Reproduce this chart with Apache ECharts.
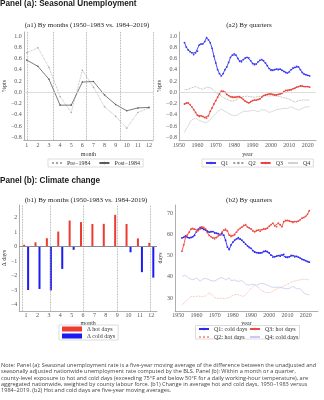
<!DOCTYPE html>
<html>
<head>
<meta charset="utf-8">
<script src="https://cdn.jsdelivr.net/npm/echarts@6/dist/echarts.min.js"></script>
<style>
  html, body { margin: 0; padding: 0; background: #fff; }
  #chart { width: 324px; height: 400px; }
</style>
</head>
<body>
<div id="chart"></div>
<script>
// ---- Panel (a1): seasonal unemployment by month, %pts ----
const months = [1, 2, 3, 4, 5, 6, 7, 8, 9, 10, 11, 12];
const unempPre1984  = [0.70, 0.79, 0.44, -0.08, -0.36, 0.39, 0.09, -0.26, -0.43, -0.64, -0.36, -0.28];
const unempPost1984 = [0.57, 0.46, 0.23, -0.23, -0.23, 0.18, 0.19, -0.05, -0.22, -0.33, -0.28, -0.27];
const unempTicks = [-0.8, -0.6, -0.4, -0.2, 0.0, 0.2, 0.4, 0.6, 0.8, 1.0];

// ---- Panel (a2): seasonal unemployment by quarter, 1953-2021 ----
const unempFirstYear = 1953;
const unempQ1 = [0.88,0.80,0.75,0.72,0.70,0.67,0.70,0.73,0.84,0.86,
                 0.86,0.90,0.97,0.93,0.88,0.78,0.64,0.52,0.40,0.33,
                 0.29,0.33,0.40,0.45,0.53,0.62,0.66,0.68,0.66,0.60,
                 0.55,0.54,0.58,0.61,0.62,0.61,0.56,0.51,0.49,0.50,
                 0.54,0.57,0.58,0.56,0.52,0.47,0.42,0.39,0.39,0.40,
                 0.41,0.40,0.41,0.39,0.37,0.35,0.34,0.36,0.40,0.43,
                 0.44,0.46,0.45,0.40,0.35,0.32,0.31,0.30,0.29];
const unempQ2 = [0.04,0.04,0.05,0.06,0.08,0.09,0.10,0.09,0.07,0.04,
                 0.05,0.07,0.09,0.10,0.08,0.06,0.03,0.00,-0.03,-0.05,
                 -0.07,-0.09,-0.11,-0.13,-0.14,-0.15,-0.16,-0.15,-0.14,-0.12,
                 -0.10,-0.09,-0.08,-0.08,-0.07,-0.08,-0.08,-0.09,-0.09,-0.08,
                 -0.08,-0.07,-0.07,-0.06,-0.06,-0.06,-0.07,-0.06,-0.06,-0.06,
                 -0.07,-0.07,-0.08,-0.09,-0.10,-0.11,-0.11,-0.12,-0.14,-0.16,
                 -0.18,-0.17,-0.15,-0.14,-0.14,-0.14,-0.14,-0.14,-0.14];
const unempQ3 = [-0.21,-0.19,-0.19,-0.22,-0.26,-0.31,-0.36,-0.41,-0.43,-0.42,
                 -0.43,-0.45,-0.46,-0.42,-0.34,-0.28,-0.21,-0.15,-0.09,-0.03,
                 0.02,0.02,0.00,-0.04,-0.06,-0.08,-0.09,-0.09,-0.09,-0.08,
                 -0.08,-0.10,-0.13,-0.16,-0.18,-0.19,-0.17,-0.15,-0.14,-0.14,
                 -0.13,-0.12,-0.09,-0.06,-0.05,-0.04,-0.03,-0.03,-0.04,-0.05,
                 -0.05,-0.04,-0.03,-0.02,0.01,0.03,0.03,0.04,0.04,0.06,
                 0.07,0.09,0.10,0.11,0.11,0.10,0.10,0.10,0.09];
const unempQ4 = [-0.72,-0.65,-0.60,-0.53,-0.49,-0.47,-0.46,-0.48,-0.50,-0.52,
                 -0.53,-0.55,-0.54,-0.52,-0.49,-0.45,-0.42,-0.38,-0.34,-0.31,
                 -0.30,-0.31,-0.34,-0.36,-0.38,-0.40,-0.41,-0.42,-0.42,-0.40,
                 -0.38,-0.36,-0.34,-0.33,-0.34,-0.34,-0.33,-0.32,-0.32,-0.34,
                 -0.35,-0.33,-0.31,-0.30,-0.32,-0.35,-0.36,-0.35,-0.34,-0.33,
                 -0.31,-0.30,-0.30,-0.29,-0.29,-0.29,-0.29,-0.28,-0.26,-0.26,
                 -0.29,-0.32,-0.32,-0.30,-0.29,-0.27,-0.26,-0.26,-0.26];
const yearTicks = [1950, 1960, 1970, 1980, 1990, 2000, 2010, 2020];

// ---- Panel (b1): change in hot / cold days by month ----
const hotDaysChange  = [0.12, 0.29, 0.57, 1.03, 1.79, 1.68, 1.55, 1.56, 2.18, 1.55, 0.56, 0.25];
const coldDaysChange = [-3.00, -2.93, -3.03, -1.55, -0.23, 0, 0, 0, 0, -0.40, -1.77, -2.15];
const deltaTicks = [-4, -3, -2, -1, 0, 1, 2];

// ---- Panel (b2): hot / cold days by quarter, 1952-2022 ----
const daysFirstYear = 1952;
const q1ColdDays = [58.3,58.6,59.2,58.6,58.3,58.5,58.8,59.5,61.2,62.4,
                    63.2,62.8,62.3,62.0,61.5,61.0,61.2,61.3,60.6,60.5,
                    60.3,59.9,60.5,59.6,57.2,54.0,52.8,55.0,56.3,57.2,
                    57.9,58.4,57.8,57.2,56.3,55.4,54.6,53.8,53.4,52.3,
                    51.6,51.4,51.2,51.2,51.3,51.9,52.2,51.8,51.2,50.2,
                    49.3,49.4,49.7,50.0,49.7,50.3,50.6,49.3,49.1,49.4,
                    50.1,50.0,49.4,49.6,49.3,48.8,48.2,48.0,47.6,47.2,
                    46.9];
const q2HotDays  = [26.8,27.4,28.2,29.2,30.0,30.8,31.1,30.6,30.3,31.0,
                    31.5,30.6,30.3,31.0,31.8,32.4,32.5,31.2,30.2,29.7,
                    29.8,30.0,29.9,29.7,29.8,30.0,30.2,30.8,31.3,31.5,
                    31.8,32.2,31.2,30.4,30.8,31.5,32.5,33.6,34.6,35.4,
                    36.0,35.6,35.0,34.0,33.5,33.0,32.6,32.4,32.5,32.8,
                    33.3,33.8,34.2,34.6,35.0,35.3,35.6,36.0,36.5,37.0,
                    37.4,37.8,38.0,38.2,38.4,38.6,38.8,38.9,38.9,38.7,
                    38.5];
const q3HotDays  = [52.0,55.0,58.5,59.8,61.0,62.5,62.8,62.4,61.5,61.8,
                    62.5,63.5,63.2,62.5,60.8,59.5,58.8,58.3,57.9,58.5,
                    59.3,59.8,61.0,62.0,62.4,61.6,59.6,59.0,59.4,59.8,
                    61.0,62.2,62.8,63.4,64.2,64.5,63.5,63.0,62.5,61.6,
                    61.2,61.8,62.0,61.5,62.2,62.7,62.5,62.9,63.8,64.6,
                    65.3,64.0,63.6,65.2,64.5,63.6,66.0,66.6,66.5,66.3,
                    66.0,65.6,66.0,65.9,66.2,66.8,67.6,67.9,68.4,69.4,
                    71.1];
const q4ColdDays = [40.3,40.5,40.7,39.8,39.2,38.9,38.6,39.0,39.4,38.6,
                    37.9,38.6,39.2,39.4,39.0,38.9,38.2,37.6,38.0,38.6,
                    39.0,39.4,39.7,39.2,38.6,39.0,39.4,38.2,37.6,38.5,
                    38.2,37.8,38.0,38.2,37.3,36.6,36.3,36.0,36.3,36.6,
                    36.3,36.0,36.4,36.9,37.1,36.7,36.3,36.1,35.6,35.2,
                    34.7,35.0,35.5,35.2,35.0,34.8,34.6,34.4,34.4,34.5,
                    35.0,35.5,35.0,34.4,34.4,34.4,33.4,32.4,31.8,31.6,
                    31.6];
const daysTicks = [30, 40, 50, 60, 70];

const noteLines = [
  'Note: Panel (a): Seasonal unemployment rate is a five-year moving average of the difference between the unadjusted and',
  'seasonally adjusted nationwide unemployment rate computed by the BLS. Panel (b): Within a month or a quarter,',
  'county-level exposure to hot and cold days (exceeding 75°F and below 50°F for a daily working-hour temperature), are',
  'aggregated nationwide, weighted by county labour force. (b1) Change in average hot and cold days, 1950–1983 versus',
  '1984–2019. (b2) Hot and cold days are five-year moving averages.'
];

// ---- helpers ----
const SERIF = '"Liberation Serif", "Times New Roman", serif';
const minus = v => (v < 0 ? '\u2212' : '') + Math.abs(v);
const oneDecimal = v => (v < 0 ? '\u2212' : '') + Math.abs(v).toFixed(1);
const plain = v => String(v);
const withYears = (first, vals) => vals.map((v, i) => [first + i, v]);
const withMonths = vals => vals.map((v, i) => [months[i], v]);

function axis(gridIndex, o) {
  return Object.assign({
    type: 'value',
    gridIndex,
    axisLine: { show: true, onZero: false, lineStyle: { color: '#9a9a9a', width: 0.8 } },
    axisTick: { show: false },
    splitLine: { show: false },
    nameLocation: 'middle',
    nameTextStyle: { fontFamily: SERIF, fontSize: 6, color: '#333' }
  }, o, {
    axisLabel: Object.assign({ fontFamily: SERIF, fontSize: 6, color: '#555', margin: 2, formatter: plain }, o.axisLabel || {})
  });
}

const vDotted = (vals, color) => vals.map(v => ({ xAxis: v, lineStyle: { type: 'dotted', color, width: 0.8 } }));
const ML = (data) => ({ silent: true, symbol: ['none', 'none'], label: { show: false }, animation: false, data });

const legendText = { fontFamily: SERIF, fontSize: 6, color: '#333' };
const boxed = { borderColor: '#cfcfcf', borderWidth: 0.7 };

const chart = echarts.init(document.getElementById('chart'), null, { renderer: 'canvas' });

chart.setOption({
  animation: false,
  backgroundColor: '#fff',
  grid: [
    { left: 22,  top: 32,  width: 131, height: 108 },
    { left: 179, top: 32,  width: 137, height: 108 },
    { left: 14,  top: 205, width: 143, height: 106 },
    { left: 175, top: 205, width: 143, height: 106 }
  ],
  xAxis: [
    axis(0, { min: 0.73, max: 12.36, name: 'month', nameGap: 11,
              axisLabel: { customValues: months } }),
    axis(1, { min: 1950, max: 2024.5, name: 'year', nameGap: 11,
              axisLabel: { customValues: yearTicks } }),
    axis(2, { min: 0.4, max: 12.5, name: 'month', nameGap: 9,
              axisLabel: { customValues: months, margin: 1 } }),
    axis(3, { min: 1948.2, max: 2026.8, name: 'year', nameGap: 9,
              axisLabel: { customValues: yearTicks, margin: 1 } })
  ],
  yAxis: [
    axis(0, { min: -0.85, max: 1.07, name: '%pts', nameGap: 15,
              axisLabel: { customValues: unempTicks, formatter: oneDecimal } }),
    axis(1, { min: -0.85, max: 1.07, name: '%pts', nameGap: 15,
              axisLabel: { customValues: unempTicks, formatter: oneDecimal } }),
    axis(2, { min: -4.45, max: 2.86, name: 'Δ days', nameGap: 10,
              axisLabel: { customValues: deltaTicks, formatter: minus } }),
    axis(3, { min: 23.9, max: 73.8, name: 'days', nameGap: 10,
              axisLabel: { customValues: daysTicks } })
  ],
  legend: [
    Object.assign({ data: ['Pre\u22121984', 'Post\u22121984'], left: 48, top: 159, itemWidth: 10, itemHeight: 3,
      itemGap: 8, padding: [1, 3], textStyle: legendText }, boxed),
    Object.assign({ data: ['Q1', 'Q2', 'Q3', 'Q4'], left: 202, top: 159, itemWidth: 10, itemHeight: 3,
      itemGap: 4, padding: [1, 3], textStyle: legendText }, boxed),
    Object.assign({ data: ['Δ hot days', 'Δ cold days'], orient: 'vertical', left: 59, top: 325, icon: 'rect',
      itemWidth: 20, itemHeight: 5, itemGap: 1, padding: [1, 3], textStyle: legendText }, boxed),
    { data: ['Q1: cold days', 'Q2: hot days'], orient: 'vertical', left: 198, top: 326,
      itemWidth: 10, itemHeight: 3, itemGap: 2, padding: 0, textStyle: legendText },
    { data: ['Q3: hot days', 'Q4: cold days'], orient: 'vertical', left: 249, top: 326,
      itemWidth: 10, itemHeight: 3, itemGap: 2, padding: 0, textStyle: legendText }
  ],
  series: [
    // (a1)
    { name: 'Pre\u22121984', type: 'line', xAxisIndex: 0, yAxisIndex: 0, data: withMonths(unempPre1984),
      symbol: 'circle', symbolSize: 1.6, itemStyle: { color: '#a8a8a8' },
      lineStyle: { color: '#a8a8a8', width: 0.8, type: 'dotted' },
      markLine: ML(vDotted([1, 3.35, 6.38, 9.38, 12.36], '#999').concat([
        { yAxis: 0, lineStyle: { type: 'solid', color: '#d4d4d4', width: 0.8 } }])) },
    { name: 'Post\u22121984', type: 'line', xAxisIndex: 0, yAxisIndex: 0, data: withMonths(unempPost1984),
      symbol: 'circle', symbolSize: 1.6, itemStyle: { color: '#5a5a5a' },
      lineStyle: { color: '#5a5a5a', width: 0.8 } },
    // (a2)
    { name: 'Q1', type: 'line', xAxisIndex: 1, yAxisIndex: 1, data: withYears(unempFirstYear, unempQ1),
      symbol: 'circle', symbolSize: 1.8, itemStyle: { color: '#3a3af2' }, lineStyle: { color: '#3a3af2', width: 0.9 },
      markLine: ML([{ yAxis: 0, lineStyle: { type: 'solid', color: '#d4d4d4', width: 0.8 } }]) },
    { name: 'Q2', type: 'line', xAxisIndex: 1, yAxisIndex: 1, data: withYears(unempFirstYear, unempQ2),
      symbol: 'none', itemStyle: { color: '#9c9c9c' }, lineStyle: { color: '#9c9c9c', width: 0.8, type: 'dotted' } },
    { name: 'Q3', type: 'line', xAxisIndex: 1, yAxisIndex: 1, data: withYears(unempFirstYear, unempQ3),
      symbol: 'circle', symbolSize: 1.8, itemStyle: { color: '#e8473d' }, lineStyle: { color: '#e8473d', width: 0.9 } },
    { name: 'Q4', type: 'line', xAxisIndex: 1, yAxisIndex: 1, data: withYears(unempFirstYear, unempQ4),
      symbol: 'none', itemStyle: { color: '#d2d2d2' }, lineStyle: { color: '#d2d2d2', width: 0.8 } },
    // (b1)
    { name: 'Δ hot days', type: 'bar', xAxisIndex: 2, yAxisIndex: 2, data: withMonths(hotDaysChange),
      barWidth: 2, barGap: '100%', itemStyle: { color: '#ec3b30' },
      markLine: ML(vDotted([0.87, 3.3, 6.22, 9.15, 12.08], '#9a9a9a').concat([
        { yAxis: 0, lineStyle: { type: 'solid', color: '#8a8a8a', width: 1.2 } }])) },
    { name: 'Δ cold days', type: 'bar', xAxisIndex: 2, yAxisIndex: 2, data: withMonths(coldDaysChange),
      barWidth: 2, barGap: '100%', itemStyle: { color: '#1c1cf2' } },
    // (b2)
    { name: 'Q1: cold days', type: 'line', xAxisIndex: 3, yAxisIndex: 3, data: withYears(daysFirstYear, q1ColdDays),
      symbol: 'circle', symbolSize: 1.8, itemStyle: { color: '#2a2af0' }, lineStyle: { color: '#2a2af0', width: 0.9 } },
    { name: 'Q2: hot days', type: 'line', xAxisIndex: 3, yAxisIndex: 3, data: withYears(daysFirstYear, q2HotDays),
      symbol: 'none', itemStyle: { color: '#f3a49e' }, lineStyle: { color: '#f3a49e', width: 0.8, type: 'dotted' } },
    { name: 'Q3: hot days', type: 'line', xAxisIndex: 3, yAxisIndex: 3, data: withYears(daysFirstYear, q3HotDays),
      symbol: 'circle', symbolSize: 1.8, itemStyle: { color: '#ef4a40' }, lineStyle: { color: '#ef4a40', width: 0.9 } },
    { name: 'Q4: cold days', type: 'line', xAxisIndex: 3, yAxisIndex: 3, data: withYears(daysFirstYear, q4ColdDays),
      symbol: 'none', itemStyle: { color: '#c9c9f5' }, lineStyle: { color: '#c9c9f5', width: 0.8 } }
  ],
  graphic: [
    { type: 'text', left: 0, top: 0, style: { text: 'Panel (a): Seasonal Unemployment', font: '600 8.2px "Liberation Sans", Arial, sans-serif', fill: '#1a1a1a' } },
    { type: 'text', left: 0, top: 177, style: { text: 'Panel (b): Climate change', font: '600 8.2px "Liberation Sans", Arial, sans-serif', fill: '#1a1a1a' } },
    { type: 'text', x: 87, y: 25, style: { text: '(a1) By months (1950\u20131983 vs. 1984\u20132019)', font: '7px ' + SERIF, fill: '#222', align: 'center', verticalAlign: 'middle' } },
    { type: 'text', x: 249, y: 25, style: { text: '(a2) By quarters', font: '7px ' + SERIF, fill: '#222', align: 'center', verticalAlign: 'middle' } },
    { type: 'text', x: 86, y: 200, style: { text: '(b1) By months (1950-1983 vs. 1984-2019)', font: '7px ' + SERIF, fill: '#222', align: 'center', verticalAlign: 'middle' } },
    { type: 'text', x: 249, y: 200, style: { text: '(b2) By quarters', font: '7px ' + SERIF, fill: '#222', align: 'center', verticalAlign: 'middle' } },
    { type: 'rect', shape: { x: 195.5, y: 325.5, width: 104, height: 13.5 }, style: { fill: 'none', stroke: '#cfcfcf', lineWidth: 0.7 }, z: 1 },
    { type: 'text', left: 1, top: 362, style: { text: noteLines.join('\n'), font: '5.6px "Open Sans", sans-serif', fill: '#444', lineHeight: 6.4 } }
  ]
});
</script>
</body>
</html>
